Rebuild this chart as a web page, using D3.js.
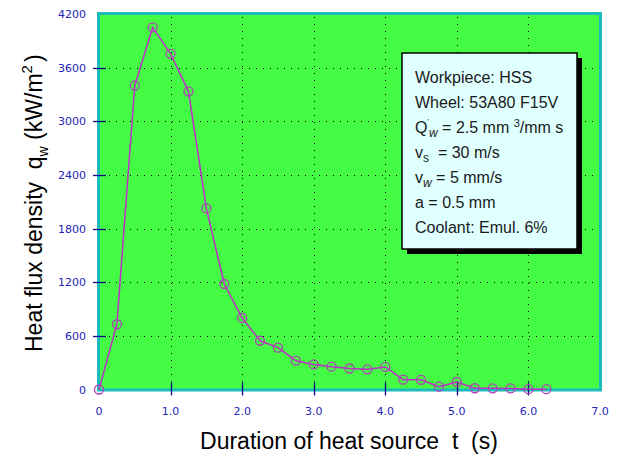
<!DOCTYPE html>
<html>
<head>
<meta charset="utf-8">
<script src="https://cdn.jsdelivr.net/npm/d3@7"></script>
<style>
  body { margin: 0; background: #fff; }
  svg { display: block; }
</style>
</head>
<body>
<div id="chart"></div>
<script>
// heat flux density vs duration of heat source
var times = [0, 0.25, 0.5, 0.75, 1.0, 1.25, 1.5, 1.75, 2.0, 2.25, 2.5, 2.75, 3.0,
             3.25, 3.5, 3.75, 4.0, 4.25, 4.5, 4.75, 5.0, 5.25, 5.5, 5.75, 6.0, 6.25];
var heatFlux = [0, 730, 3400, 4050, 3755, 3335, 2025, 1180, 800, 545, 468, 322, 280,
                255, 235, 226, 252, 110, 108, 32, 84, 14, 13, 12, 4, 4];

var xTicks = [0, 1, 2, 3, 4, 5, 6, 7];
var xTickLabels = ["0", "1.0", "2.0", "3.0", "4.0", "5.0", "6.0", "7.0"];
var yTicks = [0, 600, 1200, 1800, 2400, 3000, 3600, 4200];

var legendLines = ["Workpiece: HSS", "Wheel: 53A80 F15V", "Qw", "vs", "vw", "a = 0.5 mm", "Coolant: Emul. 6%"];

var W = 618, H = 457;
var x = d3.scaleLinear().domain([0, 7]).range([99, 600]);
var y = d3.scaleLinear().domain([0, 4200]).range([389.5, 14]);

var svg = d3.select("#chart").append("svg")
  .attr("width", W)
  .attr("height", H);

// plot background
svg.append("rect")
  .attr("x", x(0)).attr("y", y(4200))
  .attr("width", x(7) - x(0)).attr("height", y(0) - y(4200))
  .attr("fill", "#44fc44");

// dotted grid
var grid = svg.append("g").attr("stroke", "#000").attr("stroke-width", 1)
  .attr("stroke-dasharray", "1,6");
grid.selectAll("line.gx").data(xTicks.slice(1, -1)).enter().append("line")
  .attr("x1", function(d) { return Math.round(x(d)) + 0.5; })
  .attr("x2", function(d) { return Math.round(x(d)) + 0.5; })
  .attr("y1", y(4200) + 3).attr("y2", y(0));
grid.selectAll("line.gy").data(yTicks.slice(1, -1)).enter().append("line")
  .attr("y1", function(d) { return Math.round(y(d)) + 0.5; })
  .attr("y2", function(d) { return Math.round(y(d)) + 0.5; })
  .attr("x1", x(0) + 3).attr("x2", x(7));

// border
svg.append("rect")
  .attr("x", x(0) - 0.5).attr("y", y(4200) - 0.5)
  .attr("width", x(7) - x(0) + 1).attr("height", y(0) - y(4200) + 1)
  .attr("fill", "none")
  .attr("stroke", "#1cbcbc")
  .attr("stroke-width", 3);

// ticks crossing the axes
var ticks = svg.append("g").attr("stroke", "#0c0c80").attr("stroke-width", 1.3);
ticks.selectAll("line.tx").data(xTicks.slice(1, -1)).enter().append("line")
  .attr("x1", function(d) { return Math.round(x(d)) + 0.5; })
  .attr("x2", function(d) { return Math.round(x(d)) + 0.5; })
  .attr("y1", y(0) - 7).attr("y2", y(0) + 6);
ticks.selectAll("line.ty").data(yTicks.slice(1, -1)).enter().append("line")
  .attr("y1", function(d) { return Math.round(y(d)) + 0.5; })
  .attr("y2", function(d) { return Math.round(y(d)) + 0.5; })
  .attr("x1", x(0) - 6).attr("x2", x(0) + 7);

// tick labels
svg.append("g").selectAll("text").data(xTicks).enter().append("text")
  .attr("x", function(d) { return x(d); })
  .attr("y", 415)
  .attr("text-anchor", "middle")
  .style("font-family", "DejaVu Sans, Verdana, sans-serif")
  .style("font-size", "11px")
  .attr("fill", "#2424b8")
  .text(function(d, i) { return xTickLabels[i]; });

svg.append("g").selectAll("text").data(yTicks).enter().append("text")
  .attr("x", 86)
  .attr("y", function(d) { return y(d) + 4; })
  .attr("text-anchor", "end")
  .style("font-family", "DejaVu Sans, Verdana, sans-serif")
  .style("font-size", "11px")
  .attr("fill", "#2424b8")
  .text(function(d) { return d; });

// data line + hollow markers
var data = times.map(function(t, i) { return { t: t, q: heatFlux[i] }; });
var fluxLine = d3.line()
  .x(function(d) { return x(d.t); })
  .y(function(d) { return y(d.q); });

svg.append("path")
  .attr("d", fluxLine(data))
  .attr("fill", "none")
  .attr("stroke", "#c02cc8")
  .attr("stroke-width", 1.5);

svg.append("g").selectAll("circle").data(data).enter().append("circle")
  .attr("cx", function(d) { return x(d.t); })
  .attr("cy", function(d) { return y(d.q); })
  .attr("r", 4.5)
  .attr("fill", "none")
  .attr("stroke", "#b040b8")
  .attr("stroke-width", 1.3);

// axis titles
var titleFont = "Liberation Sans, Arial, sans-serif";
svg.append("text")
  .attr("x", 349).attr("y", 449)
  .attr("text-anchor", "middle")
  .style("font-family", titleFont)
  .style("font-size", "23px")
  .attr("fill", "#000")
  .attr("xml:space", "preserve")
  .text("Duration of heat source  t  (s)");

var yt = svg.append("text")
  .attr("transform", "translate(42,352) rotate(-90)")
  .style("font-family", titleFont)
  .style("font-size", "23px")
  .attr("fill", "#000")
  .attr("xml:space", "preserve");
yt.append("tspan").text("Heat flux density  q");
yt.append("tspan").attr("dy", 6).style("font-size", "14px").text("w");
yt.append("tspan").attr("dy", -6).text(" (kW/m");
yt.append("tspan").attr("dy", -10).style("font-size", "15px").text("2");
yt.append("tspan").attr("dy", 10).attr("dx", 3).text(")");

// parameters box
var bx = 402, by = 53, bw = 175, bh = 196;
svg.append("rect").attr("x", bx + 5).attr("y", by + 5)
  .attr("width", bw).attr("height", bh).attr("fill", "#000");
svg.append("rect").attr("x", bx).attr("y", by)
  .attr("width", bw).attr("height", bh)
  .attr("fill", "#e0ffff").attr("stroke", "#000").attr("stroke-width", 1.5);

var lg = svg.append("g")
  .style("font-family", titleFont)
  .style("font-size", "16px")
  .attr("fill", "#1a1a1a");

legendLines.forEach(function(s, i) {
  var t = lg.append("text").attr("x", 415).attr("y", 83 + i * 25)
    .attr("xml:space", "preserve");
  if (s === "Qw") {
    t.append("tspan").text("Q");
    t.append("tspan").attr("dy", -9).style("font-size", "8px").text("'");
    t.append("tspan").attr("dy", 13).style("font-size", "12px")
      .style("font-style", "italic").text("w");
    t.append("tspan").attr("dy", -4).text(" = 2.5 mm ");
    t.append("tspan").attr("dy", -6).style("font-size", "11px").text("3");
    t.append("tspan").attr("dy", 6).text("/mm s");
  } else if (s === "vs") {
    t.append("tspan").text("v");
    t.append("tspan").attr("dy", 4).style("font-size", "12px").text("s");
    t.append("tspan").attr("dy", -4).text("  = 30 m/s");
  } else if (s === "vw") {
    t.append("tspan").text("v");
    t.append("tspan").attr("dy", 4).style("font-size", "12px")
      .style("font-style", "italic").text("w");
    t.append("tspan").attr("dy", -4).text(" = 5 mm/s");
  } else {
    t.text(s);
  }
});
</script>
</body>
</html>
